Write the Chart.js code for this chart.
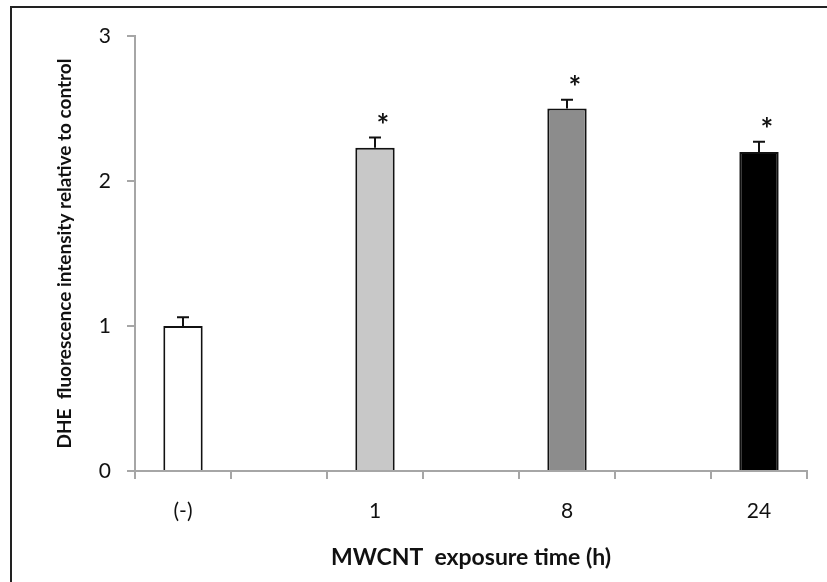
<!DOCTYPE html>
<html>
<head>
<meta charset="utf-8">
<script src="https://cdn.jsdelivr.net/npm/chart.js@4/dist/chart.umd.min.js"></script>
<style>
  html, body { margin: 0; padding: 0; background: #fff; }
  #wrap { position: relative; width: 827px; height: 582px; overflow: hidden; }
  #frame { position: absolute; left: 10px; top: 6px; right: -4px; bottom: -4px;
           border-top: 2px solid #222; border-left: 2px solid #222; }
  canvas { position: absolute; left: 0; top: 0; }
</style>
</head>
<body>
<div id="wrap">
  <div id="frame"></div>
  <canvas id="chart" width="827" height="582"></canvas>
</div>
<script>
// categories: blank slots keep the spacing between the exposure groups
const categories = ['(-)', '', '1', '', '8', '', '24'];
const means = [1.0, null, 2.23, null, 2.5, null, 2.2];
const errors = [0.06, null, 0.07, null, 0.06, null, 0.07];
const stars = ['', '', '*', '', '*', '', '*'];
const barColors = ['#ffffff', null, '#c8c8c8', null, '#8c8c8c', null, '#000000'];
const yTicks = [0, 1, 2, 3];

const AXIS_GREY = '#a6a6a6';
const FONT = 'Lato, "Open Sans", sans-serif';

const errorBars = {
  id: 'errorBars',
  afterDatasetsDraw(chart) {
    const { ctx, scales: { y } } = chart;
    const meta = chart.getDatasetMeta(0);
    ctx.save();
    meta.data.forEach((bar, i) => {
      if (means[i] == null) return;
      const top = y.getPixelForValue(means[i]);
      const cap = y.getPixelForValue(means[i] + errors[i]);
      ctx.strokeStyle = '#111';
      ctx.lineWidth = 2;
      ctx.beginPath();
      ctx.moveTo(bar.x, top);
      ctx.lineTo(bar.x, cap);
      ctx.moveTo(bar.x - 6, cap);
      ctx.lineTo(bar.x + 6, cap);
      ctx.stroke();
      if (stars[i]) {
        ctx.fillStyle = '#111';
        ctx.font = 'bold 30px ' + FONT;
        ctx.textAlign = 'center';
        ctx.textBaseline = 'alphabetic';
        ctx.fillText(stars[i], bar.x + 8, cap - 2);
      }
    });
    ctx.restore();
  }
};

new Chart(document.getElementById('chart'), {
  type: 'bar',
  data: {
    labels: categories,
    datasets: [{
      data: means,
      backgroundColor: barColors,
      borderColor: '#111',
      borderWidth: 2,
      borderSkipped: 'bottom',
      barPercentage: 0.41,
      categoryPercentage: 1.0
    }]
  },
  options: {
    responsive: false,
    animation: false,
    devicePixelRatio: 1,
    layout: { padding: { left: 0, top: 36, right: 20, bottom: 0 } },
    plugins: {
      legend: { display: false },
      tooltip: { enabled: false }
    },
    scales: {
      x: {
        offset: true,
        afterFit(s) { s.height = 111; },
        grid: { display: true, offset: true, drawOnChartArea: false, drawTicks: true, tickLength: 8, color: AXIS_GREY, lineWidth: 2 },
        border: { display: true, color: AXIS_GREY, width: 2 },
        ticks: { color: '#111', font: { family: FONT, size: 21 }, padding: 20, maxRotation: 0, autoSkip: false },
        title: { display: true, text: 'MWCNT  exposure time (h)', color: '#111',
                 font: { family: FONT, size: 23, weight: 'bold' }, padding: { top: 0, bottom: 11 } }
      },
      y: {
        min: yTicks[0],
        max: yTicks[yTicks.length - 1],
        afterFit(s) { s.width = 135; },
        afterBuildTicks(s) { s.ticks = yTicks.map(v => ({ value: v })); },
        grid: { display: true, drawOnChartArea: false, drawTicks: true, tickLength: 8, color: AXIS_GREY, lineWidth: 2 },
        border: { display: true, color: AXIS_GREY, width: 2 },
        ticks: { color: '#111', font: { family: FONT, size: 21 }, padding: 16 },
        title: { display: true, text: 'DHE  fluorescence intensity relative to control', color: '#111',
                 font: { family: FONT, size: 19, weight: 'bold' }, padding: { top: 53, bottom: 0 } }
      }
    }
  },
  plugins: [errorBars]
});
</script>
</body>
</html>
